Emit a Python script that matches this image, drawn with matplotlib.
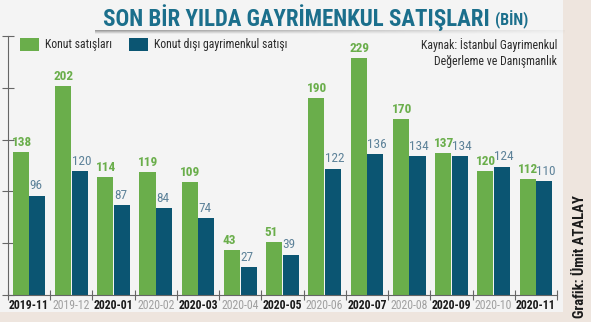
import matplotlib
matplotlib.use("Agg")
import matplotlib.pyplot as plt
import numpy as np
from matplotlib.patches import Rectangle

# ---- data (thousands) ----
months = ["2019-11", "2019-12", "2020-01", "2020-02", "2020-03", "2020-04", "2020-05",
          "2020-06", "2020-07", "2020-08", "2020-09", "2020-10", "2020-11"]
konut = [138, 202, 114, 119, 109, 43, 51, 190, 229, 170, 137, 120, 112]
konut_disi = [96, 120, 87, 84, 74, 27, 39, 122, 136, 134, 134, 124, 110]
legend_labels = ["Konut satışları", "Konut dışı gayrimenkul satışı"]
title_main = "SON BİR YILDA GAYRİMENKUL SATIŞLARI"
title_unit = "(BİN)"
source_lines = ["Kaynak: İstanbul Gayrimenkul", "Değerleme ve Danışmanlık"]
credit = "Grafik: Ümit ATALAY"

# ---- style ----
GREEN = "#6aae4b"
BLUE = "#0b5572"
TEAL = "#1b6f8c"
PANEL = "#f4f4f4"
BEIGE = "#eee5de"
COND = ["Roboto Condensed", "Liberation Sans Narrow", "Open Sans", "DejaVu Sans"]
plt.rcParams["font.family"] = COND

W, H = 591, 322
fig = plt.figure(figsize=(W / 100, H / 100), dpi=100, facecolor=BEIGE)

def fx(px):
    return px / W

def fy(py):
    return 1 - py / H

# light panel behind the chart
fig.patches.append(Rectangle((0, fy(312)), fx(563), 1 - fy(312), transform=fig.transFigure,
                             facecolor=PANEL, edgecolor="none", zorder=-5))

# soft shadow line under the title
grad_ax = fig.add_axes([fx(95), fy(34), fx(470), 4 / H])
grad_ax.set_zorder(-1)
grad = np.linspace(0.75, 0.05, 256)[None, :]
alpha_v = np.linspace(1, 0.15, 4)[:, None]
img = np.zeros((4, 256, 4))
img[..., :3] = 0.5
img[..., 3] = grad * alpha_v
grad_ax.imshow(img, aspect="auto", extent=[0, 1, 0, 1])
grad_ax.axis("off")

# ---- main axes ----
left, right, bottom, top = 8, 557, 295, 36
ax = fig.add_axes([fx(left), fy(bottom), fx(right - left), (bottom - top) / H])
ax.set_facecolor("none")
x = np.arange(len(months))
bw = 0.38
off = 0.197
ax.bar(x - off, konut, width=bw, color=GREEN, edgecolor="none", zorder=2)
ax.bar(x + off, konut_disi, width=bw, color=BLUE, edgecolor="none", zorder=2)

ax.set_xlim(-0.5, 12.5)
ax.set_ylim(0, 250)

for i in range(len(months)):
    ax.text(x[i] - off - bw / 2 - 0.03, konut[i] + 3, str(konut[i]), ha="left", va="bottom",
            fontsize=9.5, fontweight="bold", color=GREEN, clip_on=False)
    ax.text(x[i] + off - bw / 2, konut_disi[i] + 3, str(konut_disi[i]), ha="left",
            va="bottom", fontsize=9.5, color="#5d8299", clip_on=False)

for s in ["top", "right"]:
    ax.spines[s].set_visible(False)
ax.spines["left"].set_color("#666666")
ax.spines["bottom"].set_color("#666666")
ax.spines["left"].set_linewidth(0.8)
ax.spines["bottom"].set_linewidth(0.8)

ax.set_yticks([0, 50, 100, 150, 200, 250])
ax.tick_params(axis="y", direction="inout", length=9, width=0.8, color="#666666",
               labelleft=False)
ax.set_xticks(x)
ax.set_xticks(np.arange(-0.5, 12.6, 1), minor=True)
ax.tick_params(axis="x", which="major", length=0, pad=3)
ax.tick_params(axis="x", which="minor", direction="inout", length=7, width=0.8,
               color="#666666")
ax.set_xticklabels(months)
for i, lab in enumerate(ax.get_xticklabels()):
    lab.set_fontsize(8.5)
    if i % 2 == 0:
        lab.set_fontweight("bold")
        lab.set_color("#1a1a1a")
    else:
        lab.set_color("#a0a0a0")

# ---- title ----
t_main = fig.text(fx(103), fy(18), title_main, ha="left", va="center", fontsize=16.5,
                  fontweight="bold", color=TEAL)
fig.canvas.draw()
bb = t_main.get_window_extent()
fig.text((bb.x1 + 5) / W, fy(19.5), title_unit, ha="left", va="center", fontsize=11.5,
         fontweight="bold", color=TEAL)

# ---- legend ----
for px, col, lab in [(20, GREEN, legend_labels[0]), (129, BLUE, legend_labels[1])]:
    fig.patches.append(Rectangle((fx(px), fy(51)), fx(19), 13 / H, transform=fig.transFigure,
                                 facecolor=col, edgecolor="none", zorder=3))
    fig.text(fx(px + 25), fy(44.5), lab, ha="left", va="center", fontsize=8.5,
             color="#2a2a2a")

# ---- source ----
fig.text(fx(557), fy(45), source_lines[0], ha="right", va="center", fontsize=8.5,
         color="#2a2a2a")
fig.text(fx(557), fy(62), source_lines[1], ha="right", va="center", fontsize=8.5,
         color="#2a2a2a")

# ---- credit ----
fig.text(fx(580), fy(318), credit, ha="center", va="bottom", rotation=90, fontsize=10.5,
         fontweight="bold", color="#1a1a1a")

fig.savefig("out.png", dpi=100, facecolor=BEIGE)
